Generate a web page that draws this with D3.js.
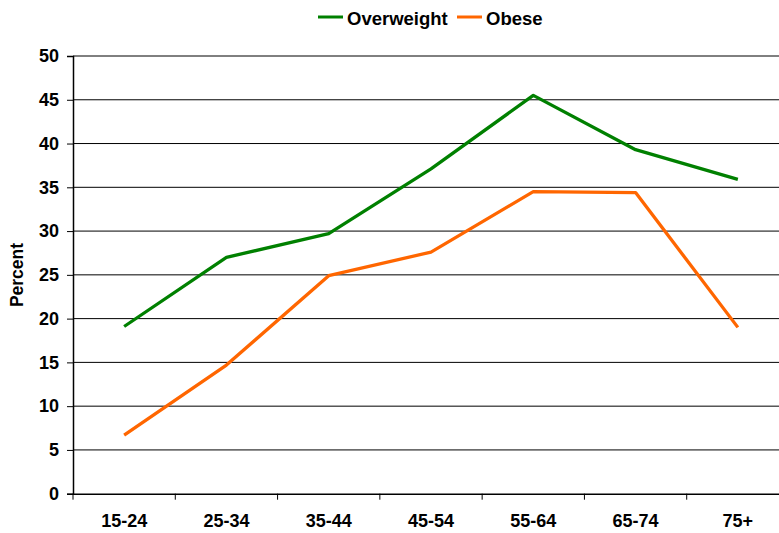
<!DOCTYPE html>
<html>
<head>
<meta charset="utf-8">
<script src="https://cdn.jsdelivr.net/npm/d3@7"></script>
<style>
  body { margin: 0; background: #fff; }
  text { font-family: "Liberation Sans", Arial, sans-serif; font-weight: bold; fill: #000; }
</style>
</head>
<body>
<svg id="chart" width="779" height="533"></svg>
<script>
const ageGroups = ["15-24", "25-34", "35-44", "45-54", "55-64", "65-74", "75+"];
const overweight = [19.1, 27.0, 29.7, 37.1, 45.5, 39.3, 35.9];
const obese = [6.7, 14.7, 24.9, 27.6, 34.5, 34.4, 19.0];
const yTicks = [0, 5, 10, 15, 20, 25, 30, 35, 40, 45, 50];

const series = [
  { name: "Overweight", values: overweight, color: "#008000" },
  { name: "Obese", values: obese, color: "#FF6600" },
];

const marginLeft = 73;
const marginTop = 56;
const plotWidth = 716;
const plotHeight = 437.7;

const svg = d3.select("#chart");

const xScale = d3.scaleBand().domain(ageGroups).range([marginLeft, marginLeft + plotWidth]);
const yScale = d3.scaleLinear().domain([0, 50]).range([marginTop + plotHeight, marginTop]);

// gridlines
svg.append("g")
  .selectAll("line")
  .data(yTicks.filter((d) => d > 0))
  .enter()
  .append("line")
  .attr("x1", marginLeft)
  .attr("x2", marginLeft + plotWidth)
  .attr("y1", (d) => yScale(d))
  .attr("y2", (d) => yScale(d))
  .attr("stroke", "#000")
  .attr("stroke-width", 1);

// y axis
const yAxis = svg.append("g")
  .attr("transform", `translate(${marginLeft},0)`)
  .call(d3.axisLeft(yScale).tickValues(yTicks).tickSize(6).tickPadding(8));
yAxis.select(".domain").attr("stroke", "#000").attr("stroke-width", 1.5);
yAxis.selectAll("text").style("font-size", "18px");

// x axis
const xAxis = svg.append("g")
  .attr("transform", `translate(0,${marginTop + plotHeight})`)
  .call(d3.axisBottom(xScale).tickSize(0).tickPadding(21));
xAxis.select(".domain").attr("stroke", "#000").attr("stroke-width", 1.5);
xAxis.selectAll("text").style("font-size", "18px");
xAxis.selectAll(".boundary")
  .data(ageGroups)
  .enter()
  .append("line")
  .attr("x1", (d) => xScale(d))
  .attr("x2", (d) => xScale(d))
  .attr("y1", 0)
  .attr("y2", 6)
  .attr("stroke", "#000");

// lines
const line = d3.line()
  .x((d, i) => xScale(ageGroups[i]) + xScale.bandwidth() / 2)
  .y((d) => yScale(d));

svg.selectAll(".series")
  .data(series)
  .enter()
  .append("path")
  .attr("class", "series")
  .attr("d", (d) => line(d.values))
  .attr("fill", "none")
  .attr("stroke", (d) => d.color)
  .attr("stroke-width", 3.3)
  .attr("stroke-linejoin", "round");

// y label
svg.append("text")
  .attr("transform", "translate(23,275) rotate(-90)")
  .attr("text-anchor", "middle")
  .style("font-size", "17.5px")
  .text("Percent");

// legend
const legendX = [318, 457];
const legend = svg.selectAll(".legend")
  .data(series)
  .enter()
  .append("g")
  .attr("class", "legend")
  .attr("transform", (d, i) => `translate(${legendX[i]},17)`);
legend.append("line")
  .attr("x1", 0)
  .attr("x2", 25)
  .attr("stroke", (d) => d.color)
  .attr("stroke-width", 3);
legend.append("text")
  .attr("x", 29)
  .attr("y", 8)
  .style("font-size", "18.5px")
  .text((d) => d.name);
</script>
</body>
</html>
